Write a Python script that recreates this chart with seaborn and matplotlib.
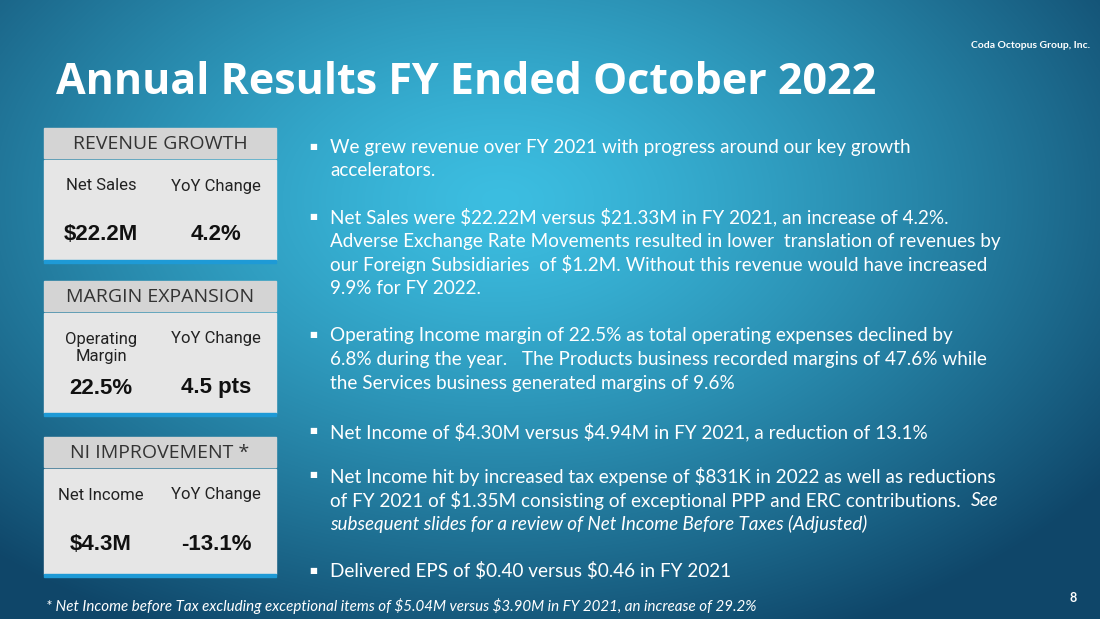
import numpy as np
import seaborn as sns
import matplotlib.pyplot as plt
from matplotlib.patches import Rectangle

sns.set_style("white")
plt.rcParams['font.family'] = ['Lato', 'DejaVu Sans']
plt.rcParams['text.parse_math'] = False

title = "Annual Results FY Ended October 2022"
card_titles = ["REVENUE GROWTH", "MARGIN EXPANSION", "NI IMPROVEMENT *"]
card_labels = [["Net Sales", "YoY Change"], ["Operating\nMargin", "YoY Change"], ["Net Income", "YoY Change"]]
card_values = [["$22.2M", "4.2%"], ["22.5%", "4.5 pts"], ["$4.3M", "-13.1%"]]
bullets = [
    (["We grew revenue over FY 2021 with progress around our key growth", "accelerators."], 147),
    (["Net Sales were $22.22M versus $21.33M in FY 2021, an increase of 4.2%.",
      "Adverse Exchange Rate Movements resulted in lower  translation of revenues by",
      "our Foreign Subsidiaries  of $1.2M. Without this revenue would have increased",
      "9.9% for FY 2022."], 217),
    (["Operating Income margin of 22.5% as total operating expenses declined by",
      "6.8% during the year.   The Products business recorded margins of 47.6% while",
      "the Services business generated margins of 9.6%"], 336),
    (["Net Income of $4.30M versus $4.94M in FY 2021, a reduction of 13.1%"], 432),
    (["Net Income hit by increased tax expense of $831K in 2022 as well as reductions",
      "of FY 2021 of $1.35M consisting of exceptional PPP and ERC contributions.  |See",
      "|subsequent slides for a review of Net Income Before Taxes (Adjusted)"], 476),
    (["Delivered EPS of $0.40 versus $0.46 in FY 2021"], 571),
]
footnote = "* Net Income before Tax excluding exceptional items of $5.04M versus $3.90M in FY 2021, an increase of 29.2%"

fig = plt.figure(figsize=(11, 6.19), dpi=100)
ax = fig.add_axes([0, 0, 1, 1])
ax.set_xlim(0, 1100)
ax.set_ylim(619, 0)
ax.axis("off")

# underwater background
yy, xx = np.mgrid[0:619, 0:1100]
d = np.sqrt(((xx - 500) / 750) ** 2 + ((yy - 200) / 480) ** 2)
t = np.clip(d, 0, 1)[..., None] ** 1.3
c1 = np.array([60, 190, 225]) / 255
c2 = np.array([15, 70, 105]) / 255
img = c1 * (1 - t) + c2 * t
ax.imshow(img, extent=[0, 1100, 619, 0], aspect="auto", zorder=0)

ax.text(56, 82, title, color="white", fontsize=31, fontweight="bold", family=["Open Sans", "DejaVu Sans"], va="center")
ax.text(1090, 46, "Coda Octopus Group, Inc.", color="white", fontsize=7.5, fontweight="bold", ha="right", va="center")
ax.text(1077, 598, "8", color="white", fontsize=9, fontweight="bold", ha="right", va="center")

tops = [128, 281, 437]
body_h = [100, 100, 105]
for i in range(3):
    y0 = tops[i]
    ax.add_patch(Rectangle((44, y0), 232, 30, color="#d4d4d4", zorder=2))
    ax.text(160, y0 + 16, card_titles[i], color="#333333", fontsize=14, ha="center", va="center",
            family=["Open Sans", "DejaVu Sans"], zorder=3)
    ax.add_patch(Rectangle((44, y0 + 32), 232, body_h[i], color="#e6e6e6", zorder=2))
    ax.add_patch(Rectangle((44, y0 + 32 + body_h[i]), 232, 3, color="#1e9ad6", zorder=2))
    lab_y = y0 + 58 if i != 1 else y0 + 67
    ax.text(101, lab_y, card_labels[i][0], color="#222222", fontsize=12, ha="center", va="center",
            family=["Roboto", "DejaVu Sans"], linespacing=1.1, zorder=3)
    ax.text(216, y0 + 58, card_labels[i][1], color="#222222", fontsize=12, ha="center", va="center",
            family=["Roboto", "DejaVu Sans"], zorder=3)
    ax.text(101, y0 + 107, card_values[i][0], color="#111111", fontsize=16, fontweight="bold", ha="center",
            va="center", family=["Liberation Sans", "DejaVu Sans"], zorder=3)
    ax.text(216, y0 + 107, card_values[i][1], color="#111111", fontsize=16, fontweight="bold", ha="center",
            va="center", family=["Liberation Sans", "DejaVu Sans"], zorder=3)

fs = 13.6
for lines, y in bullets:
    ax.text(309, y - 1, "■", color="white", fontsize=6, va="center")
    for k, line in enumerate(lines):
        ly = y + 24 * k
        if "|" in line:
            a, b = line.split("|")
            if a:
                txt = ax.text(330, ly, a, color="white", fontsize=fs, va="center")
                ax.annotate(b, xy=(1, 0.5), xycoords=txt, va="center", color="white", fontsize=fs,
                            style="italic")
            else:
                ax.text(330, ly, b, color="white", fontsize=fs, va="center", style="italic")
        else:
            ax.text(330, ly, line, color="white", fontsize=fs, va="center")

ax.text(46, 606, footnote, color="white", fontsize=10.9, style="italic", va="center")

fig.savefig("out.png", dpi=100)
